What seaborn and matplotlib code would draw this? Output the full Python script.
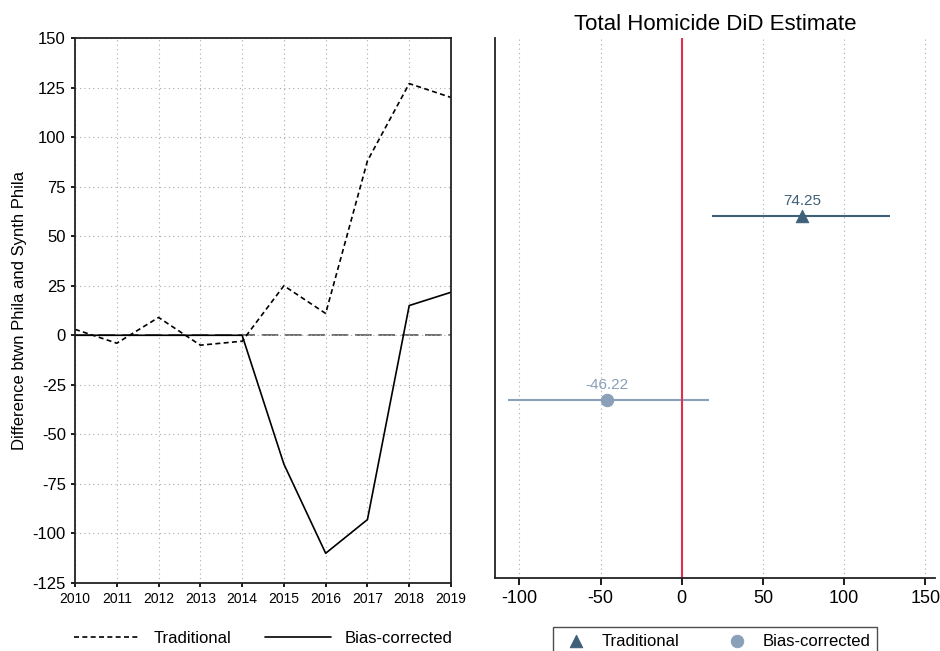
import matplotlib.pyplot as plt
import seaborn as sns
import numpy as np

sns.set_theme(style="white")
plt.rcParams['font.family'] = ['Liberation Sans', 'DejaVu Sans']
plt.rcParams['axes.unicode_minus'] = False
plt.rcParams['text.color'] = "black"
plt.rcParams['axes.labelcolor'] = "black"
plt.rcParams['xtick.color'] = "black"
plt.rcParams['ytick.color'] = "black"

years = np.arange(2010, 2020)
traditional = [3, -4, 9, -5, -3, 25, 11, 88, 127, 120]
bias_corrected = [0, 0, 0, 0, 0, -65, -110, -93, 15, 21.7]

labels = ["Traditional", "Bias-corrected"]
estimates = [74.25, -46.22]
ci_low = [18.5, -107]
ci_high = [128.4, 16.7]
ypos = [0.67, 0.33]
colors = ["#3e6079", "#8a9fb8"]
markers = ["^", "o"]

fig = plt.figure(figsize=(9.4, 6.51), dpi=100)
ax1 = fig.add_axes([75/940, 1-583/651, 376/940, 545/651])
ax2 = fig.add_axes([495/940, 1-578/651, 440/940, 540/651])

# panel links: verschil per jaar
sns.lineplot(x=years, y=traditional, ax=ax1, color="black", lw=1.2, label="Traditional")
ax1.lines[-1].set_linestyle((0, (3, 2)))
sns.lineplot(x=years, y=bias_corrected, ax=ax1, color="black", lw=1.2, label="Bias-corrected")
ax1.axhline(0, color="#555555", lw=1.2, ls=(0, (10, 4)), zorder=0)
ax1.set_xlim(2010, 2019)
ax1.set_ylim(-125, 150)
ax1.set_xticks(years)
ax1.set_yticks(np.arange(-125, 151, 25))
ax1.tick_params(axis="x", labelsize=10, length=3, bottom=True)
ax1.tick_params(axis="y", labelsize=12, length=3, left=True)
ax1.grid(True, ls=(0, (1, 3)), color="#aaaaaa", lw=0.8)
ax1.set_ylabel("Difference btwn Phila and Synth Phila", fontsize=12)
for s in ax1.spines.values():
    s.set_color("#222222"); s.set_linewidth(1.3)
ax1.legend(loc="upper center", bbox_to_anchor=(0.5, -0.06), ncol=2, frameon=False,
           fontsize=12, handlelength=4, columnspacing=2)

# panel rechts: DiD schattingen
for lab, est, lo, hi, y, c, m in zip(labels, estimates, ci_low, ci_high, ypos, colors, markers):
    ax2.hlines(y, lo, hi, color=c, lw=1.5)
    sns.scatterplot(x=[est], y=[y], ax=ax2, color=c, marker=m, s=80, label=lab, zorder=3, edgecolor=c)
    ax2.text(est, y + 0.015, f"{est:.2f}", ha="center", va="bottom", color=c, fontsize=11)
ax2.axvline(0, color="#e0304e", lw=1.5)
ax2.set_xlim(-115, 156)
ax2.set_ylim(0, 1)
ax2.set_yticks([])
ax2.set_xticks(np.arange(-100, 151, 50))
ax2.tick_params(axis="x", labelsize=13, length=5, bottom=True)
ax2.grid(True, axis="x", ls=(0, (1, 3)), color="#aaaaaa", lw=0.8)
ax2.spines["top"].set_visible(False)
ax2.spines["right"].set_visible(False)
for s in ["left", "bottom"]:
    ax2.spines[s].set_color("#222222"); ax2.spines[s].set_linewidth(1.3)
ax2.set_title("Total Homicide DiD Estimate", fontsize=16)
leg = ax2.legend(loc="upper center", bbox_to_anchor=(0.5, -0.075), ncol=2, fontsize=12,
                 frameon=True, fancybox=False, edgecolor="#222222", columnspacing=2.5, handletextpad=0.5)

fig.savefig("out.png", dpi=100)
